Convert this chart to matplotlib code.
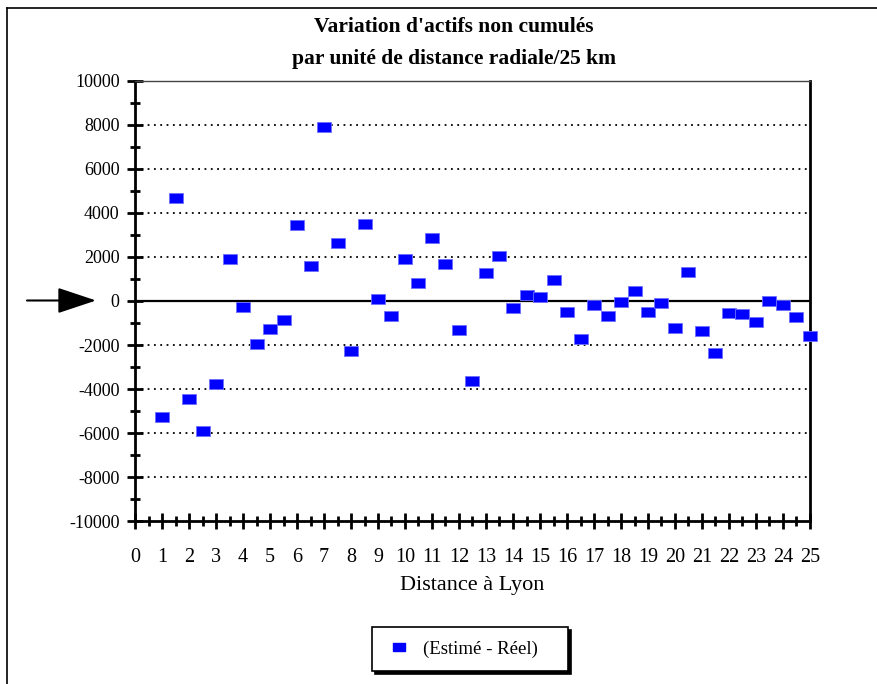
import numpy as np
import matplotlib.pyplot as plt
from matplotlib.ticker import MultipleLocator
from matplotlib.lines import Line2D

# Données
distance = [1, 1.5, 2, 2.5, 3, 3.5, 4, 4.5, 5, 5.5, 6, 6.5, 7, 7.5, 8, 8.5, 9, 9.5,
            10, 10.5, 11, 11.5, 12, 12.5, 13, 13.5, 14, 14.5, 15, 15.5, 16, 16.5,
            17, 17.5, 18, 18.5, 19, 19.5, 20, 20.5, 21, 21.5, 22, 22.5, 23, 23.5,
            24, 24.5, 25]
ecart = [-5270, 4660, -4470, -5890, -3770, 1920, -250, -1940, -1280, -840,
         3440, 1590, 7900, 2620, -2280, 3510, 90, -700, 1890, 800, 2850, 1680,
         -1300, -3630, 1260, 2060, -320, 290, 180, 950, -510, -1710, -180, -700,
         -60, 450, -500, -100, -1210, 1330, -1350, -2360, -550, -580, -940, 10,
         -180, -710, -1590]

titre = "Variation d'actifs non cumulés\npar unité de distance radiale/25 km"
label_x = "Distance à Lyon"
legende = "(Estimé - Réel)"

plt.rcParams['font.family'] = ['Liberation Serif', 'DejaVu Serif']
plt.rcParams['axes.unicode_minus'] = False

fig = plt.figure(figsize=(8.78, 6.84), dpi=100)
ax = fig.add_axes([135/878, 1 - 521.3/684, 675/878, 440.6/684])

# marqueur rectangulaire
rect = [(-1.4, -1), (1.4, -1), (1.4, 1), (-1.4, 1), (-1.4, -1)]
ax.plot(distance, ecart, linestyle='none', marker=rect, markersize=9.5,
        color='#0000ff', markeredgecolor='#6f6fff', markeredgewidth=0.6,
        zorder=5, clip_on=False)

ax.set_xlim(0, 25)
ax.set_ylim(-10000, 10000)

# grille pointillée + ligne zéro
for y in range(-8000, 10000, 2000):
    if y == 0:
        ax.axhline(0, color='black', lw=1.6, zorder=2)
    else:
        ax.axhline(y, color='black', lw=1.3, ls=(0, (1, 2.5)), zorder=1)

ax.xaxis.set_major_locator(MultipleLocator(1))
ax.xaxis.set_minor_locator(MultipleLocator(0.5))
ax.yaxis.set_major_locator(MultipleLocator(2000))
ax.yaxis.set_minor_locator(MultipleLocator(1000))
ax.tick_params(axis='both', which='major', direction='inout', length=12, width=2)
ax.tick_params(axis='both', which='minor', direction='inout', length=7, width=2)
ax.tick_params(axis='y', which='major', labelsize=13, pad=5)
ax.tick_params(axis='x', which='major', labelsize=14.5, pad=13)

for s in ['left', 'bottom', 'right']:
    ax.spines[s].set_linewidth(2)
ax.spines['top'].set_linewidth(1)
ax.spines['top'].set_color('#444444')

ax.set_xlabel(label_x, fontsize=16, labelpad=7)

fig.text(0.517, 1 - 43/684, titre, ha='center', va='center', fontsize=15.5,
         fontweight='bold', linespacing=1.75)

# flèche à gauche
ax.annotate('', xy=(96/878, 1 - 300.5/684), xytext=(27/878, 1 - 300.5/684),
            xycoords='figure fraction', textcoords='figure fraction',
            arrowprops=dict(arrowstyle='-|>,head_length=2.4,head_width=0.8',
                            color='black', lw=1.5, shrinkA=0, shrinkB=0))

# cadre extérieur (haut et gauche)
fig.add_artist(Line2D([7/878, 1], [1 - 8/684, 1 - 8/684], color='black', lw=1.2))
fig.add_artist(Line2D([7/878, 7/878], [1 - 8/684, 0], color='black', lw=1.2))

handle = Line2D([], [], linestyle='none', marker=rect, markersize=9,
                color='#0000ff')
leg = fig.legend([handle], [legende], loc='center', mode='expand',
                 bbox_to_anchor=(372/878, 1 - 670/684, 196/878, 42/684),
                 frameon=True, fancybox=False, shadow={'color': 'black', 'alpha': 1},
                 fontsize=13.5, borderpad=0.7, handlelength=1.5, handletextpad=0.5,
                 borderaxespad=0)
leg.get_frame().set_edgecolor('black')
leg.get_frame().set_linewidth(1.2)

fig.savefig('out.png', dpi=100)
